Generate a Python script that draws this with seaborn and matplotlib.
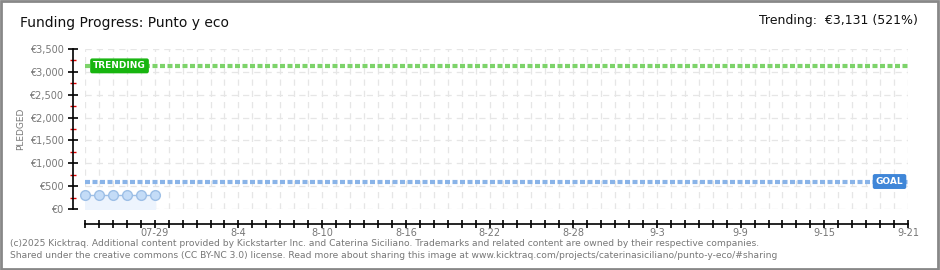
import matplotlib
matplotlib.use("Agg")
import matplotlib.pyplot as plt
import seaborn as sns
import pandas as pd
import numpy as np

# ---- data ----
dates = ["2025-07-24", "2025-07-25", "2025-07-26", "2025-07-27", "2025-07-28", "2025-07-29"]
pledged = [306, 306, 306, 306, 306, 306]
goal = 601
trending = 3131
tick_dates = ["2025-07-29", "2025-08-04", "2025-08-10", "2025-08-16", "2025-08-22",
              "2025-08-28", "2025-09-03", "2025-09-09", "2025-09-15", "2025-09-21"]
tick_labels = ["07-29", "8-4", "8-10", "8-16", "8-22", "8-28", "9-3", "9-9", "9-15", "9-21"]
y_ticks = [0, 500, 1000, 1500, 2000, 2500, 3000, 3500]
y_labels = ["€0", "€500", "€1,000", "€1,500", "€2,000", "€2,500", "€3,000", "€3,500"]
title = "Funding Progress: Punto y eco"
trend_text = "Trending:  €3,131 (521%)"
footer1 = "(c)2025 Kicktraq. Additional content provided by Kickstarter Inc. and Caterina Siciliano. Trademarks and related content are owned by their respective companies."
footer2 = "Shared under the creative commons (CC BY-NC 3.0) license. Read more about sharing this image at www.kicktraq.com/projects/caterinasiciliano/punto-y-eco/#sharing"

sns.set_theme(style="white")
plt.rcParams['font.family'] = ['DejaVu Sans']

df = pd.DataFrame({"date": pd.to_datetime(dates), "pledged": pledged})

fig = plt.figure(figsize=(9.4, 2.7), dpi=100)
W, H = 940, 270
ax = fig.add_axes([85 / W, 1 - 209 / H, (908 - 85) / W, (209 - 49) / H])

x0 = pd.Timestamp("2025-07-24")
x1 = pd.Timestamp("2025-09-21")
ax.set_xlim(x0, x1)
ax.set_ylim(0, 3500)

# grid
for d in pd.date_range(x0, x1, freq="D"):
    ax.axvline(d, color="#e6e6e6", lw=0.9, ls=(0, (5, 4)), zorder=0)
for v in y_ticks:
    ax.axhline(v, color="#e6e6e6", lw=0.9, ls=(0, (5, 4)), zorder=0)

# goal and trending lines
ax.axhline(goal, color="#8ab4e8", lw=3, ls=(0, (1.2, 0.6)), zorder=2)
ax.axhline(trending, color="#7dd36a", lw=3, ls=(0, (1.2, 0.6)), zorder=2)

# data
ax.fill_between(df["date"], 0, df["pledged"], color="#edf4fd", zorder=1)
sns.lineplot(data=df, x="date", y="pledged", ax=ax, color="#9dbfe6", lw=1,
             marker="o", markersize=7, markerfacecolor="#c4dcf7",
             markeredgecolor="#9dbfe6", markeredgewidth=1, zorder=3, clip_on=False)

# labels on lines
ax.text(pd.Timestamp("2025-07-24 14:00"), trending, "TRENDING", color="white",
        fontsize=6.5, fontweight="bold", va="center", ha="left", zorder=5,
        bbox=dict(boxstyle="round,pad=0.25,rounding_size=0.15", fc="#17b50f", ec="#17b50f"))
ax.text(pd.Timestamp("2025-09-20 16:00"), goal, "GOAL", color="white",
        fontsize=6.5, fontweight="bold", va="center", ha="right", zorder=5,
        bbox=dict(boxstyle="round,pad=0.25,rounding_size=0.15", fc="#3f86d8", ec="#3f86d8"))

# axes styling
for s in ["top", "right"]:
    ax.spines[s].set_visible(False)
ax.spines["left"].set_position(("outward", 9))
ax.spines["bottom"].set_position(("outward", 11))
ax.spines["left"].set_color("black")
ax.spines["bottom"].set_color("black")
ax.spines["left"].set_linewidth(1.2)
ax.spines["bottom"].set_linewidth(1.2)

ax.set_yticks(y_ticks)
ax.set_yticklabels(y_labels, fontsize=7, color="#777777")
ax.set_yticks(np.arange(250, 3500, 500), minor=True)
ax.tick_params(axis="y", which="major", direction="inout", length=7, width=1.2, color="black", left=True, pad=3)
ax.tick_params(axis="y", which="minor", direction="inout", length=5, width=1, color="#dd0000", left=True)

ax.set_xticks(pd.to_datetime(tick_dates))
ax.set_xticklabels(tick_labels, fontsize=7, color="#777777")
ax.set_xticks(pd.date_range(x0, x1, freq="D"), minor=True)
ax.tick_params(axis="x", which="major", direction="inout", length=6, width=1.2, color="black", bottom=True, pad=0)
ax.tick_params(axis="x", which="minor", direction="inout", length=6, width=1.2, color="black", bottom=True)
ax.set_xlabel("")
ax.set_ylabel("PLEDGED", fontsize=6.5, color="#777777", labelpad=3)
ax.grid(False)

# texts
fig.text(20 / W, 1 - 23 / H, title, fontsize=10, color="#111111", va="center", ha="left")
fig.text(918 / W, 1 - 21 / H, trend_text, fontsize=9, color="#111111", va="center", ha="right")
fig.text(10 / W, 1 - 243 / H, footer1, fontsize=6.6, color="#777777", va="center", ha="left")
fig.text(10 / W, 1 - 256 / H, footer2, fontsize=6.6, color="#777777", va="center", ha="left")

# outer border
fig.patches.append(plt.Rectangle((0.001, 0.002), 0.997, 0.995, transform=fig.transFigure,
                                 fill=False, ec="#888888", lw=2))

fig.savefig("out.png", dpi=100)
